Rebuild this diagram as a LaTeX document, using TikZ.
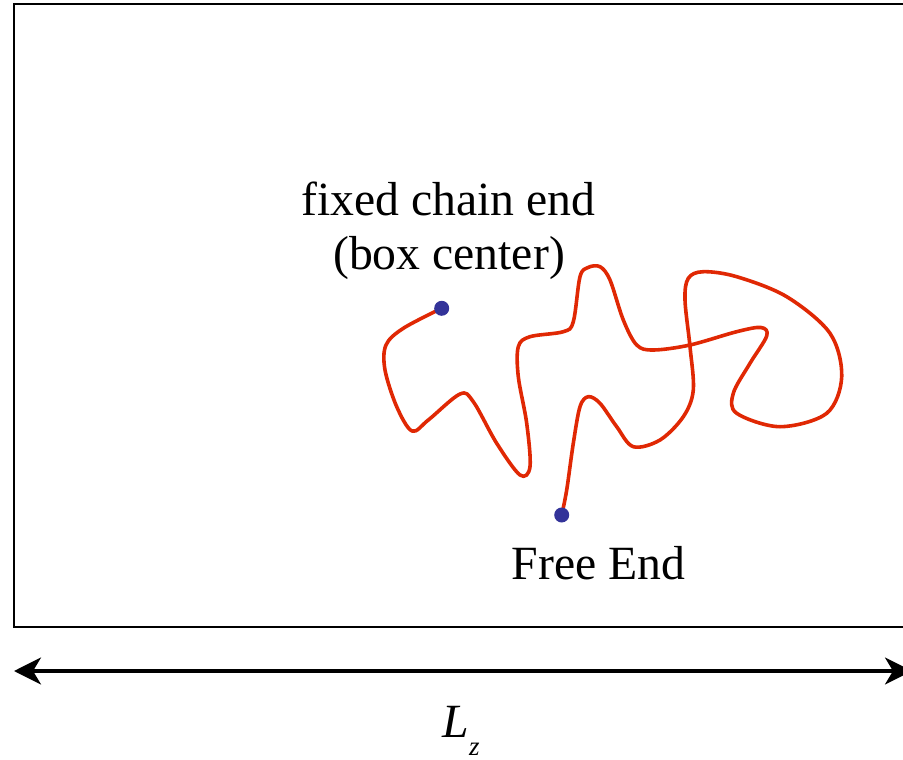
\documentclass[tikz,border=0pt]{standalone}
\usepackage{fontspec}
\setmainfont{Liberation Serif}
\usetikzlibrary{arrows.meta}
\definecolor{chainred}{RGB}{224,40,4}
\definecolor{endblue}{RGB}{51,51,153}
\begin{document}
\begin{tikzpicture}[x=1pt,y=-1pt,
  lbl/.style={font=\fontsize{47.7}{56}\selectfont, inner sep=0pt, anchor=base},
  chainend/.style={circle, fill=endblue, inner sep=0pt, minimum size=15pt},
  chain/.style={draw=chainred, line width=3.6pt, line cap=round, line join=round},
  dimline/.style={line width=3.4pt, >={Stealth[length=27pt, width=27pt, inset=8pt]}, <->}]
\useasboundingbox (0,0) rectangle (903,760);

% simulation box (right side runs past the page edge)
\draw[line width=2pt] (14,4) rectangle (925,627);

% the polymer chain, from the fixed end to the free end
\coordinate (fixedend) at (441.7,308.3);
\coordinate (freeend) at (561.7,515);
\draw[chain] plot[smooth, tension=0.55] coordinates {
  (fixedend) (403.3,328.3) (386,345) (385,370) (396.7,406.7) (412,431)
  (428.3,420) (460,394) (473.3,401.7) (496.7,443.3) (520,475)
  (530,466.7) (526.7,423.3) (518.3,376.7) (518.3,346.7) (530,336.7)
  (563.3,331.7) (573.3,321.7) (580,276.7) (588,267.5) (600,266.7)
  (610,280) (623.3,320) (636.7,345) (653.3,350) (690,345)
  (736.7,331.7) (761,327.5) (766.7,336) (750,363.3) (733.3,393.3)
  (736.7,413.3) (780,426.7) (826.7,413.3) (841.7,376.7) (830,333.3)
  (786.7,296.7) (736.7,276.7) (703.3,271.7) (688.3,278.3) (685,300)
  (690,346.7) (693.3,390) (683.3,416.7) (660,440) (633.3,446.7)
  (616.7,426.7) (600,403.3) (588.3,396.7) (580,406.7) (573.3,443.3)
  (566.7,490) (freeend)};

\node[chainend] (fixeddot) at (fixedend) {};
\node[chainend] (freedot) at (freeend) {};

% labels
\node[lbl] (fixedlbl) at (448.5,215) {fixed chain end};
\node[lbl] (centerlbl) at (449,269.3) {(box center)};
\node[lbl] (freelbl) at (598.5,579.3) {Free End};

% box length dimension
\coordinate (dimleft) at (14,671);
\coordinate (dimright) at (912,671);
\draw[dimline] (dimleft) -- (dimright);
\node[lbl] (lz) at (461,737) {\textit{L}\raisebox{-18pt}{\fontsize{27}{27}\selectfont\textit{z}}};
\end{tikzpicture}
\end{document}
